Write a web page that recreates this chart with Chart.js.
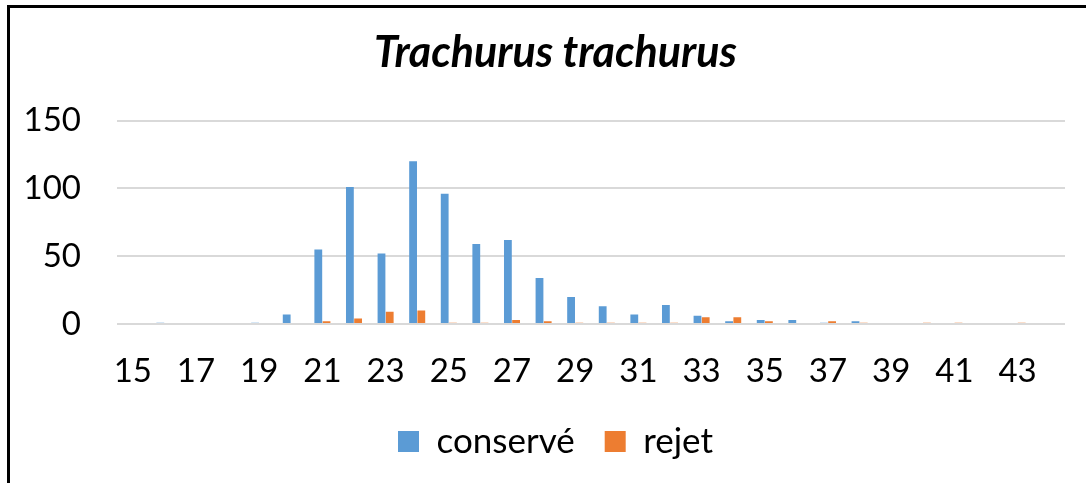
<!DOCTYPE html>
<html>
<head>
<meta charset="utf-8">
<script src="https://cdn.jsdelivr.net/npm/chart.js@4/dist/chart.umd.min.js"></script>
<style>
  html, body { margin: 0; padding: 0; background: #fff; }
  #wrap { position: relative; width: 1086px; height: 483px; overflow: hidden; }
  #c { position: absolute; left: 0; top: 0; }
  #frame { position: absolute; left: 7px; top: 5px; width: 3000px; height: 3000px;
           border-left: 3px solid #000; border-top: 3px solid #000; pointer-events: none; }
</style>
</head>
<body>
<div id="wrap">
  <canvas id="c" width="1086" height="483"></canvas>
  <div id="frame"></div>
</div>
<script>
const categories = ['15','16','17','18','19','20','21','22','23','24','25','26','27','28','29',
                    '30','31','32','33','34','35','36','37','38','39','40','41','42','43','44'];
const conserve = [0,1,0,0,1,7,55,101,52,120,96,59,62,34,20,13,7,14,6,2,3,3,1,2,0,0,0,0,0,0];
const rejet    = [0,0,0,0,0,0,2,4,9,10,1,1,3,2,1,1,1,1,5,5,2,0,2,1,0,1,1,0,1,0];
const yTicks = [0, 50, 100, 150];
const seriesNames = ['conservé', 'rejet'];
const chartTitle = 'Trachurus trachurus';

const FONT = 'Lato';

// shift the centring span of title and legend (reference centres them a bit right of the canvas middle)
const centreShift = {
  id: 'centreShift',
  afterLayout(chart) {
    if (chart.titleBlock) chart.titleBlock.left = 46;
    if (chart.legend) chart.legend.left = 46;
  }
};

new Chart(document.getElementById('c'), {
  type: 'bar',
  plugins: [centreShift],
  data: {
    labels: categories,
    datasets: [
      { label: seriesNames[0], data: conserve, backgroundColor: '#5B9BD5',
        categoryPercentage: 0.52, barPercentage: 0.95 },
      { label: seriesNames[1], data: rejet, backgroundColor: '#ED7D31',
        categoryPercentage: 0.52, barPercentage: 0.95 }
    ]
  },
  options: {
    responsive: false,
    animation: false,
    layout: { padding: { left: 0, right: 21, top: 23, bottom: 14 } },
    plugins: {
      title: {
        display: true, text: chartTitle, color: '#000',
        font: { family: FONT, size: 43, weight: 'bold', style: 'italic' },
        padding: { top: 4, bottom: 42 }
      },
      legend: {
        position: 'bottom',
        labels: {
          color: '#000', boxWidth: 21, boxHeight: 21, padding: 30,
          font: { family: FONT, size: 35 }
        }
      },
      tooltip: { enabled: false }
    },
    scales: {
      x: {
        afterFit: function (s) { s.height = 70; },
        grid: { display: false },
        border: { display: false },
        ticks: {
          color: '#000', autoSkip: false, maxRotation: 0, padding: 20,
          font: { family: FONT, size: 33 },
          callback: function (v, i) { return (i % 2 === 0) ? categories[i] : ''; }
        }
      },
      y: {
        min: yTicks[0], max: yTicks[yTicks.length - 1],
        afterFit: function (s) { s.width = 117; },
        afterBuildTicks: function (s) { s.ticks = yTicks.map(v => ({ value: v })); },
        grid: { color: '#d9d9d9', lineWidth: 2, drawTicks: false },
        border: { display: false },
        ticks: { color: '#000', padding: 36, font: { family: FONT, size: 33 } }
      }
    }
  }
});
</script>
</body>
</html>
